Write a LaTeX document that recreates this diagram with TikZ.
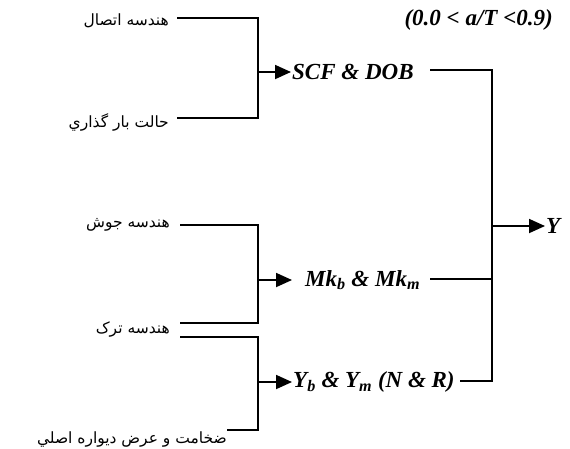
\documentclass[tikz,border=0pt]{standalone}
\usepackage{fontspec}
\usetikzlibrary{arrows.meta}
\TeXXeTstate=1
\setmainfont{Liberation Serif}
\newfontfamily\arabicfont[Script=Arabic]{DejaVu Sans}
\begin{document}
\begin{tikzpicture}[x=1pt,y=-1pt,
  fa/.style={font=\arabicfont\fontsize{15.5}{17}\selectfont, inner sep=0pt},
  la/.style={font=\fontsize{23}{26}\selectfont\bfseries\itshape, inner sep=1pt},
  ln/.style={line width=1.8pt},
  ar/.style={line width=1.8pt, -{Triangle[length=16pt,width=14pt]}}]
\useasboundingbox (0,0) rectangle (570,448);
% left texts
\node[fa, anchor=east] (a1) at (169,21) {\beginR هندسه اتصال\endR};
\node[fa, anchor=east] (a2) at (169,122) {\beginR حالت بار گذاري\endR};
\node[fa, anchor=east] (a3) at (170,225) {\beginR هندسه جوش\endR};
\node[fa, anchor=east] (a4) at (170,329) {\beginR هندسه ترک\endR};
\node[fa, anchor=east] (a5) at (227,439) {\beginR ضخامت و عرض ديواره اصلي\endR};
% middle texts
\node[la, anchor=west] (m1) at (291,72) {SCF \& DOB};
\node[la, anchor=west] (m2) at (304,280) {Mk\textsubscript{b} \& Mk\textsubscript{m}};
\node[la, anchor=west] (m3) at (292,382) {Y\textsubscript{b} \& Y\textsubscript{m} (N \& R)};
\node[la, anchor=east] (t) at (554,20) {(0.0 < a/T <0.9)};
\node[la, anchor=west] (y) at (545,226) {Y};
% line ends
\coordinate (s1) at (177,18);
\coordinate (s2) at (177,118);
\coordinate (s3) at (180,225);
\coordinate (s4) at (180,323);
\coordinate (s5) at (180,337);
\coordinate (s6) at (227,430);
\coordinate (e1) at (430,70);
\coordinate (e2) at (430,279);
\coordinate (e3) at (460,381);
% junction coordinates
\coordinate (j1) at (258,72);
\coordinate (j2) at (258,280);
\coordinate (j3) at (258,382);
\coordinate (r1) at (492,226);
% group 1
\draw[ln] (s1) -| (j1) |- (s2);
\draw[ar] (j1) -- (m1.west);
% group 2
\draw[ln] (s3) -| (j2) |- (s4);
\draw[ar] (j2) -- ([xshift=-12pt]m2.west);
% group 3
\draw[ln] (s5) -| (j3) |- (s6);
\draw[ar] (j3) -- (m3.west);
% right collector
\draw[ln] (e1) -| (r1) |- (e3);
\draw[ln] (e2) -- (e2 -| r1);
\draw[ar] (r1) -- (y.west);
\end{tikzpicture}
\end{document}
